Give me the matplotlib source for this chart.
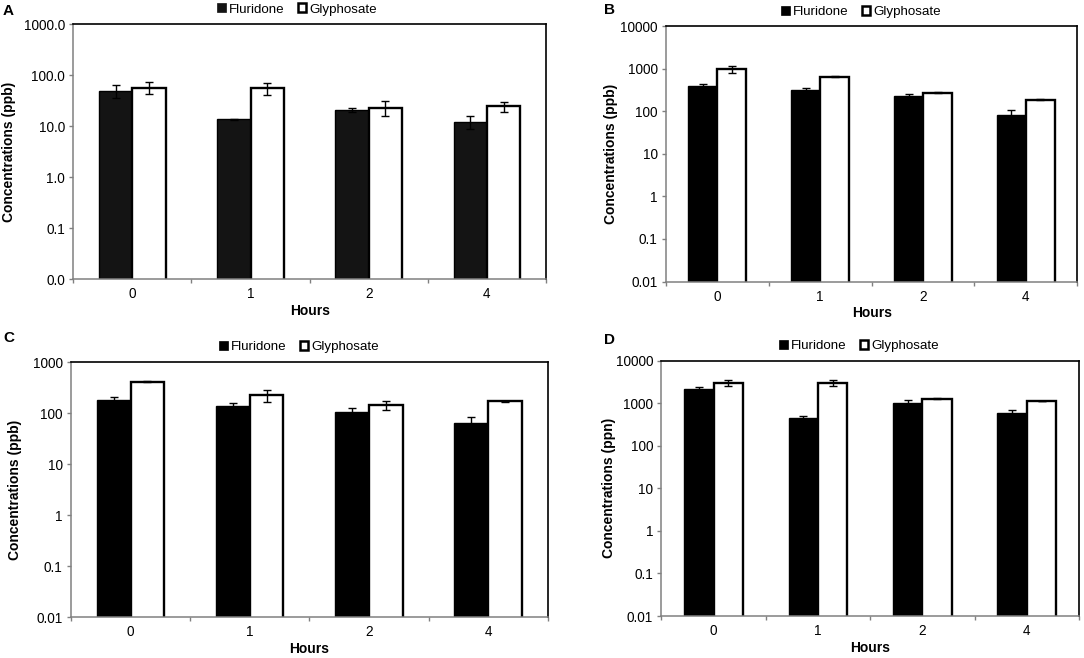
import matplotlib
matplotlib.use("Agg")
import matplotlib.pyplot as plt
from matplotlib.patches import Patch
from matplotlib.ticker import FixedLocator, FuncFormatter, NullFormatter

plt.rcParams['font.family'] = ['Liberation Sans', 'DejaVu Sans']

hours = ['0', '1', '2', '4']

# panel A
a_flu = [49, 13.7, 21, 12.2]
a_flu_err = [14, 0.3, 2, 3.3]
a_gly = [57, 56, 23, 24.7]
a_gly_err = [15, 15, 7.5, 5.6]

# panel B
b_flu = [393, 316, 225, 81]
b_flu_err = [40, 35, 25, 28]
b_gly = [964, 648, 274, 187]
b_gly_err = [160, 30, 5, 3]

# panel C
c_flu = [185, 137, 106, 66]
c_flu_err = [22, 22, 20, 17]
c_gly = [418, 225, 144, 172]
c_gly_err = [10, 55, 30, 5]

# panel D
d_flu = [2200, 458, 1030, 590]
d_flu_err = [170, 50, 160, 110]
d_gly = [3040, 3040, 1280, 1130]
d_gly_err = [480, 480, 20, 20]

W, H = 1084, 658
fig = plt.figure(figsize=(W / 100, H / 100), dpi=100)


def panel(box, flu, flu_err, gly, gly_err, ymax, fmt, ylabel, letter, letter_xy,
          leg_xy, ylab_x, flu_color='black'):
    l, r, t, b = box
    ax = fig.add_axes([l / W, 1 - b / H, (r - l) / W, (b - t) / H])
    x = range(len(hours))
    w = 0.282
    xf = [i - w / 2 for i in x]
    xg = [i + w / 2 for i in x]
    ekw = dict(ecolor='black', elinewidth=1, capsize=2.6, capthick=1)
    ax.bar(xf, flu, w, color=flu_color, edgecolor='black', linewidth=1.0,
           yerr=flu_err, error_kw=ekw)
    ax.bar(xg, gly, w, color='white', edgecolor='black', linewidth=1.7,
           yerr=gly_err, error_kw=ekw)
    ax.set_yscale('log')
    ax.set_ylim(0.01, ymax)
    ax.set_xlim(-0.5, len(hours) - 0.5)
    ax.yaxis.set_major_locator(FixedLocator([10.0 ** k for k in range(-2, 5) if 10.0 ** k <= ymax]))
    ax.yaxis.set_minor_locator(FixedLocator([]))
    ax.yaxis.set_major_formatter(FuncFormatter(fmt))
    ax.yaxis.set_minor_formatter(NullFormatter())
    ax.set_xticks(list(x))
    ax.set_xticklabels(hours)
    ax.set_xticks([i - 0.5 for i in range(len(hours) + 1)], minor=True)
    ax.tick_params(axis='x', which='major', length=0, pad=5.8, labelsize=9.8)
    ax.tick_params(axis='x', which='minor', length=3, color='#808080', width=1)
    ax.tick_params(axis='y', which='major', length=3, color='#808080', width=1,
                   pad=3, labelsize=9.8)
    for s in ['top', 'right']:
        ax.spines[s].set_color('black')
        ax.spines[s].set_linewidth(1.2)
    for s in ['left', 'bottom']:
        ax.spines[s].set_color('#808080')
        ax.spines[s].set_linewidth(1.1)
    ax.set_xlabel('Hours', fontsize=10, fontweight='bold', labelpad=2)
    fig.text(ylab_x / W, 1 - (t + b) / 2 / H, ylabel, rotation=90, ha='center',
             va='center', fontsize=10, fontweight='bold')
    fig.text(letter_xy[0] / W, 1 - letter_xy[1] / H, letter, fontsize=11,
             fontweight='bold', ha='left', va='center')
    handles = [Patch(facecolor=flu_color, edgecolor=flu_color, linewidth=0.5),
               Patch(facecolor='white', edgecolor='black', linewidth=1.8)]
    ax.legend(handles, ['Fluridone', 'Glyphosate'], loc='center', ncol=2,
              bbox_to_anchor=(leg_xy[0] / W, 1 - leg_xy[1] / H),
              bbox_transform=fig.transFigure, frameon=False, fontsize=9.6,
              handlelength=0.65, handleheight=0.65, handletextpad=0.2,
              columnspacing=1.0, borderpad=0)
    return ax


fmt1 = lambda v, p: '%.1f' % v
fmtg = lambda v, p: '%g' % v

panel((73.3, 546, 24, 279.3), a_flu, a_flu_err, a_gly, a_gly_err, 1000, fmt1,
      'Concentrations (ppb)', 'A', (3, 11), (297, 9.5), 9.5, flu_color='#141414')
panel((666, 1077.3, 26, 281.5), b_flu, b_flu_err, b_gly, b_gly_err, 10000, fmtg,
      'Concentrations (ppb)', 'B', (604, 9.5), (861, 11.7), 610.5)
panel((70.9, 547.7, 362.3, 617.3), c_flu, c_flu_err, c_gly, c_gly_err, 1000, fmtg,
      'Concentrations (ppb)', 'C', (3.4, 338.5), (299, 346.7), 14.6)
panel((661.4, 1079, 360.7, 616), d_flu, d_flu_err, d_gly, d_gly_err, 10000, fmtg,
      'Concentrations (ppn)', 'D', (604, 339.5), (859, 346), 608.5)

fig.savefig('out.png', dpi=100)
